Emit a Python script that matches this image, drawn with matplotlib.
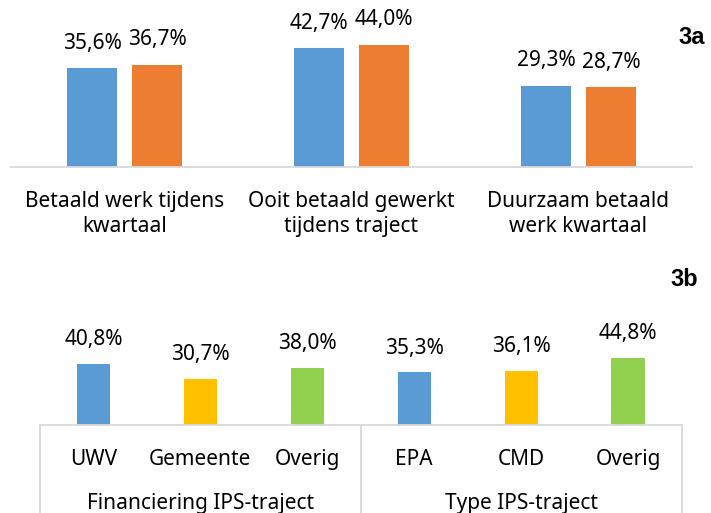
import matplotlib
matplotlib.use("Agg")
import matplotlib.pyplot as plt
from matplotlib import transforms

plt.rcParams['font.family'] = ['Noto Sans', 'DejaVu Sans']

# figuur 3a: twee reeksen per categorie
cats_a = ["Betaald werk tijdens\nkwartaal",
          "Ooit betaald gewerkt\ntijdens traject",
          "Duurzaam betaald\nwerk kwartaal"]
reeks1_a = [35.6, 42.7, 29.3]
reeks2_a = [36.7, 44.0, 28.7]

# figuur 3b: zes categorieen in twee groepen
cats_b = ["UWV", "Gemeente", "Overig", "EPA", "CMD", "Overig"]
waarden_b = [40.8, 30.7, 38.0, 35.3, 36.1, 44.8]
groepen_b = ["Financiering IPS-traject", "Type IPS-traject"]

BLUE = "#5B9BD5"
ORANGE = "#ED7D31"
YELLOW = "#FFC000"
GREEN = "#92D050"
LINE = "#D9D9D9"
kleuren_b = [BLUE, YELLOW, GREEN, BLUE, YELLOW, GREEN]

W, H = 711, 513
FS = 15


def rect(left, top, right, bottom):
    # pixelgrenzen -> figuurcoordinaten
    return [left / W, 1 - bottom / H, (right - left) / W, (bottom - top) / H]


def pct(v):
    return ("%.1f%%" % v).replace(".", ",")


def style(ax):
    for s in ["top", "left", "right"]:
        ax.spines[s].set_visible(False)
    ax.spines["bottom"].set_color(LINE)
    ax.spines["bottom"].set_linewidth(1.3)
    ax.set_yticks([])
    ax.tick_params(axis="x", length=0, pad=17.5, labelsize=FS)


fig = plt.figure(figsize=(W / 100, H / 100), dpi=100)

# --- 3a ---
ax1 = fig.add_axes(rect(11, 0, 692, 167))
style(ax1)
x = list(range(len(cats_a)))
bw = 0.22
off = 0.143
b1 = ax1.bar([i - off for i in x], reeks1_a, bw, color=BLUE)
b2 = ax1.bar([i + off for i in x], reeks2_a, bw, color=ORANGE)
for bars, vals in [(b1, reeks1_a), (b2, reeks2_a)]:
    for r, v in zip(bars, vals):
        ax1.annotate(pct(v), (r.get_x() + r.get_width() / 2, v),
                     xytext=(0, 25), textcoords="offset pixels",
                     ha="center", va="center", fontsize=FS)
ax1.set_xlim(-0.5, len(cats_a) - 0.5)
ax1.set_ylim(0, 167 / 2.78)
ax1.set_xticks(x)
ax1.set_xticklabels(cats_a, linespacing=1.2)

# --- 3b ---
ax2 = fig.add_axes(rect(40, 250, 681.5, 425))
style(ax2)
xb = list(range(len(cats_b)))
bars = ax2.bar(xb, waarden_b, 0.31, color=kleuren_b)
for r, v in zip(bars, waarden_b):
    ax2.annotate(pct(v), (r.get_x() + r.get_width() / 2, v),
                 xytext=(0, 24), textcoords="offset pixels",
                 ha="center", va="center", fontsize=FS)
ax2.set_xlim(-0.5, len(cats_b) - 0.5)
ax2.set_ylim(0, 175 / 1.5)
ax2.set_xticks(xb)
ax2.set_xticklabels(cats_b)

# groepsgrenzen en groepslabels onder de as
n = len(cats_b) // len(groepen_b)
trans = transforms.blended_transform_factory(ax2.transData, ax2.transAxes)
for k in range(len(groepen_b) + 1):
    ax2.plot([k * n - 0.5] * 2, [0, -1], transform=trans, color=LINE,
             lw=1.3, clip_on=False)
shift = transforms.ScaledTranslation(0, -68 / 100, fig.dpi_scale_trans)
for k, g in enumerate(groepen_b):
    ax2.text(k * n + (n - 1) / 2, 0, g, transform=trans + shift,
             ha="center", va="top", fontsize=FS)

fig.text(678 / W, 1 - 37 / H, "3a", fontsize=17, fontweight="bold",
         family="Liberation Sans", va="center")
fig.text(670 / W, 1 - 280 / H, "3b", fontsize=17, fontweight="bold",
         family="Liberation Sans", va="center")

fig.savefig("out.png", dpi=100)
